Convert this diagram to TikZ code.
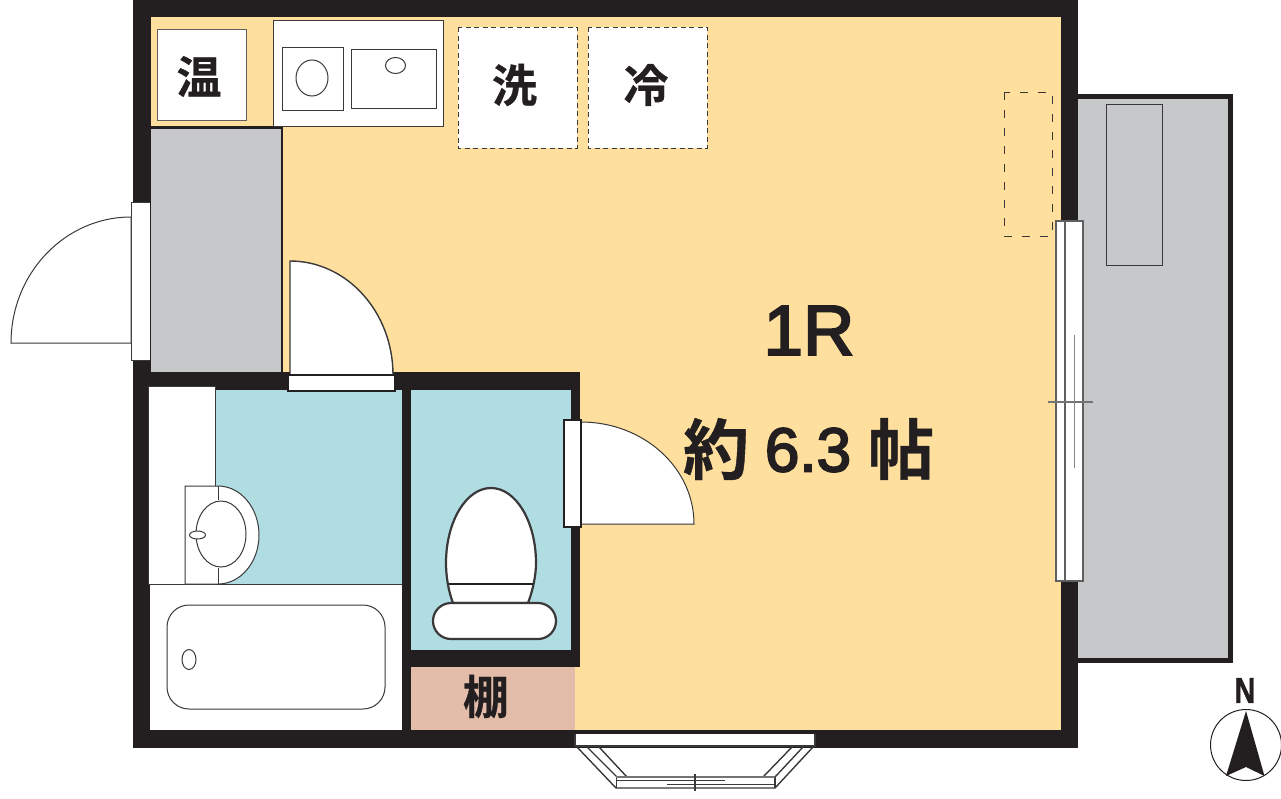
\documentclass[tikz,border=0pt]{standalone}
\usepackage{fontspec}
\setmainfont{Liberation Sans}
\newfontfamily\cjk[FakeBold=.6]{Noto Sans CJK JP Bold}
\newfontfamily\latinheavy[FakeBold=3]{Liberation Sans}
\newfontfamily\latinn[FakeBold=1.5]{Liberation Sans Bold}
\definecolor{wallc}{HTML}{231F20}
\definecolor{floorc}{HTML}{FEDF9E}
\definecolor{greyc}{HTML}{C7C8CA}
\definecolor{aquac}{HTML}{AFDDE2}
\definecolor{shelfc}{HTML}{E3BDA9}
\definecolor{linec}{HTML}{3A3839}
\tikzset{
  wall/.style={fill=wallc,draw=none},
  thin/.style={draw=linec,line width=1pt},
  fixture/.style={draw=linec,line width=1pt,fill=white},
  heavy/.style={draw=wallc,line width=2.4pt,fill=white},
  dashbox/.style={draw=linec,line width=1pt,dash pattern=on 8pt off 10pt},
  dashwhite/.style={draw=linec,line width=1pt,fill=white,dash pattern=on 5pt off 3.5pt},
  lab/.style={inner sep=0pt,text=wallc},
}
\begin{document}
\begin{tikzpicture}[x=1pt,y=-1pt]
\useasboundingbox (0,0) rectangle (1281,798);
% balcony
\fill[wallc] (1070,94) rectangle (1233,663);
\fill[greyc] (1070,99) rectangle (1228,658);
\draw[thin] (1106,104) rectangle (1162,265);
% outer wall and floor
\fill[wall] (133,0) rectangle (1078,748);
\fill[floorc] (151,17) rectangle (1061,730);
% entry
\fill[wall] (133,372) rectangle (580,390);
\fill[wall] (133,126) rectangle (283,129);
\fill[greyc] (151,129) rectangle (281,372);
\draw[wallc,line width=2pt] (282,128) -- (282,372);
% bath
\fill[aquac] (215,390) rectangle (402,584);
\fill[white] (148,386) rectangle (215,584);
\draw[linec,line width=.7pt] (148,386) -- (215,386) -- (215,486);
\draw[linec,line width=.7pt] (148,386) -- (148,584) -- (186,584);
\fill[white] (150,585) rectangle (402,730);
\draw[linec,line width=1pt] (150,584) -- (402,584);
\draw[thin] (167,627) arc[start angle=180,end angle=270,radius=22] -- (363,605) arc[start angle=-90,end angle=0,radius=22] -- (385,687) arc[start angle=0,end angle=90,radius=22] -- (189,709) arc[start angle=90,end angle=180,radius=22] -- cycle;
\draw[linec,line width=1pt] (189,659.5) ellipse[x radius=7,y radius=10];
% basin
\path[fixture] (185,486) -- (218,486) arc[start angle=-90,end angle=90,x radius=41,y radius=49] -- (185,584) -- cycle;
\draw[linec,line width=.9pt] (218,486) -- (218,500) (218,568) -- (218,584);
\draw[fixture] (221,534) ellipse[x radius=25,y radius=33];
\draw[fixture] (197.500,535) ellipse[x radius=8,y radius=4];
% walls interior
\fill[wall] (402,372) rectangle (411,748);
\fill[wall] (571,372) rectangle (580,667);
\fill[wall] (402,650) rectangle (580,667);
\fill[aquac] (411,390) rectangle (571,650);
\fill[shelfc] (411,667) rectangle (575,730);
% toilet
\path[fixture,line width=2.2pt] (446,563) arc[start angle=180,end angle=360,x radius=45,y radius=75] .. controls (536,575) and (533,590) .. (528,603) -- (453,603) .. controls (448,590) and (446,575) .. (446,563) -- cycle;
\draw[wallc,line width=1.8pt] (449,584) -- (533,584);
\draw[fixture,line width=2.2pt] (451,603) -- (538,603) arc[start angle=-90,end angle=90,radius=18] -- (451,639) arc[start angle=90,end angle=270,radius=18] -- cycle;
% kitchen
\draw[fixture,draw=linec!80] (157,29) rectangle (246,120);
\draw[fixture] (273,20) rectangle (443.500,126);
\draw[thin] (282,47) rectangle (343,110);
\draw[thin] (351,49) rectangle (436,108);
\draw[linec,line width=1pt] (312,78) ellipse[x radius=16,y radius=18];
\draw[linec,line width=1pt] (395.500,65.500) ellipse[x radius=10,y radius=8];
\path[dashwhite] (458,27) rectangle (577,148);
\path[dashwhite] (588,27) rectangle (707,148);
\path[dashbox] (1004,92) rectangle (1052,236);
% entrance door
\fill[white] (131,202) rectangle (150,360);
\draw[thin] (150,202) -- (131,202) -- (131,360) -- (150,360);
\draw[thin,fill=white] (131,217) arc[start angle=270,end angle=180,x radius=120,y radius=126] -- (131,343) -- cycle;
% bathroom door
\path[fixture,line width=1.4pt] (290,261) arc[start angle=270,end angle=360,x radius=103,y radius=114] -- (290,375) -- cycle;
\draw[heavy,line width=1.6pt] (288,375) rectangle (395,391);
% toilet door
\path[fixture] (581,422) arc[start angle=270,end angle=360,x radius=113,y radius=102] -- (581,524) -- cycle;
\draw[heavy,line width=1.6pt] (564,420) rectangle (581,527);
% balcony window
\fill[white] (1056,221) rectangle (1083,581);
\draw[linec!80,line width=1.4pt] (1056,221) rectangle (1083,581);
\draw[linec!80,line width=1.4pt] (1065,221) -- (1065,581);
\draw[linec!60,line width=1.4pt] (1074.500,335) -- (1074.500,468);
\draw[linec!70,line width=1.4pt] (1048,402) -- (1093,402);
% bottom bay window
\fill[white] (575,734) rectangle (815,746);
\draw[linec,line width=1.4pt] (575,734) -- (575,746) -- (815,746) -- (815,734);
\draw[linec,line width=1.4pt] (577,747) -- (616,788) -- (775,788) -- (813,747);
\draw[linec,line width=1.4pt] (587,747) -- (617,777) (599,747) -- (627,777);
\draw[linec,line width=1.4pt] (803,747) -- (775,777) (792,747) -- (763,777);
\draw[linec,line width=1.4pt] (616.500,777) -- (616.500,788) (775,777) -- (775,788);
\draw[linec!70,line width=1.4pt] (616,777) -- (775,777);
\draw[linec,line width=1.2pt] (616,780.500) -- (725,780.500) (667,784.500) -- (775,784.500);
\draw[linec,line width=1.2pt] (695,774) -- (695,791);
% north
\draw[wallc,line width=1pt] (1246,745) circle[radius=35.500];
\fill[wallc] (1246,711) -- (1264.500,776) -- (1246,767) -- (1226,776) -- cycle;
% text
\node[lab] (onsen) at (199,76.500) {\cjk\fontsize{45}{45}\selectfont 温};
\node[lab] (sen) at (514.500,85) {\cjk\fontsize{45}{45}\selectfont 洗};
\node[lab] (rei) at (646,85) {\cjk\fontsize{45}{45}\selectfont 冷};
\node[lab] (tana) at (486,696.500) {\cjk\fontsize{46}{46}\selectfont 棚};
\node[lab] (room) at (809,330.500) {\latinheavy\fontsize{71}{71}\selectfont 1R};
\node[lab] (yaku) at (716,449) {\cjk\fontsize{66}{66}\selectfont 約};
\node[lab] (num) at (808,450) {\latinheavy\fontsize{62}{62}\selectfont 6.3};
\node[lab] (jou) at (901,449) {\cjk\fontsize{66}{66}\selectfont 帖};
\node[lab,xscale=.8] (north) at (1245,690.500) {\latinn\fontsize{36}{36}\selectfont N};
\end{tikzpicture}
\end{document}
